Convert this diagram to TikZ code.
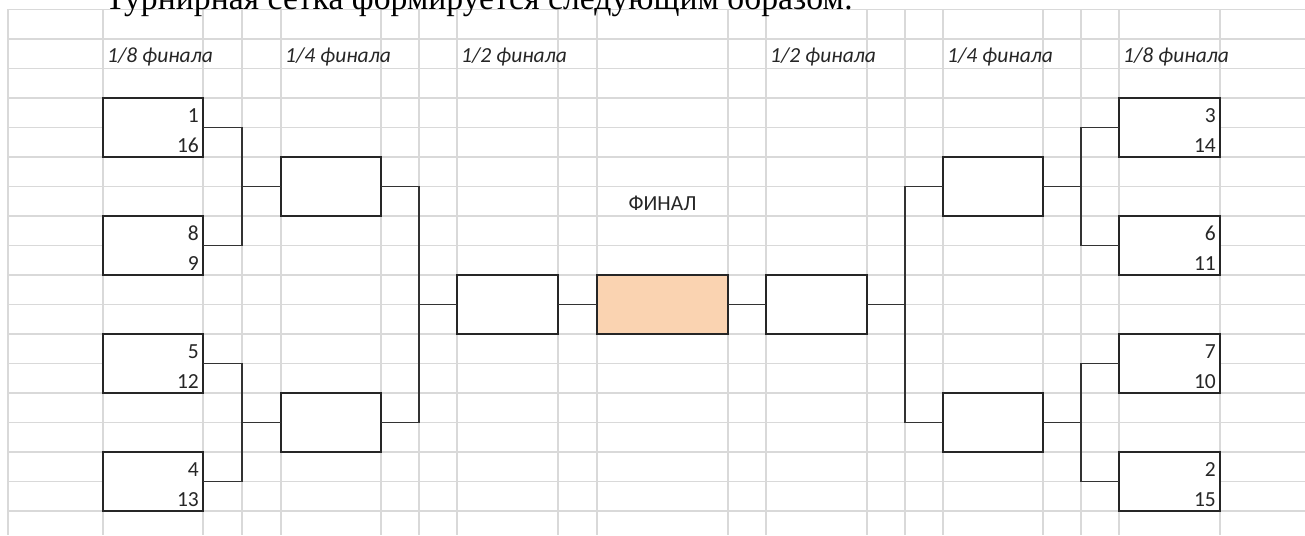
\documentclass[tikz,border=0pt]{standalone}
\usepackage{fontspec}
\setmainfont{Carlito}
\newfontfamily\headlinefont{Liberation Serif}
\usepackage{xcolor}
\usepackage{tikz}
\usetikzlibrary{calc}
\definecolor{cellline}{RGB}{217,217,217}
\definecolor{finalfill}{RGB}{250,211,177}

\begin{document}
\begin{tikzpicture}[
  x=1pt, y=-1pt,
  cell/.style={draw=cellline, line width=1.3pt},
  match/.style={rectangle, draw=black!85, line width=1.4pt, fill=white,
    minimum width=100pt, minimum height=59pt, inner sep=0pt, outer sep=0pt,
    anchor=north west},
  final/.style={match, fill=finalfill, minimum width=131pt},
  seed/.style={font=\fontsize{21.5}{24}\selectfont, text=black!85,
    inner sep=0pt, anchor=base east},
  stage/.style={font=\fontsize{21.5}{24}\selectfont\itshape, text=black!85,
    inner sep=0pt, anchor=base west},
  link/.style={draw=black!80, line width=1.4pt}
]
\useasboundingbox (0,0) rectangle (1305,535);

% spreadsheet grid
\foreach \gx in {8,103,203,242,281,381,419,457,558,597,728,766,867,905,943,1043,1081,1119,1220}
  \draw[cell] (\gx,9.5) -- (\gx,535);
\foreach \k in {0,...,17}
  \draw[cell] (8,{9.5+29.5*\k}) -- (1305,{9.5+29.5*\k});

% cut-off line of text above the table
\node[anchor=base west, inner sep=0pt, font=\headlinefont\fontsize{33.7}{40}\selectfont]
  (headline) at (105,10) {Турнирная сетка формируется следующим образом:};

% round titles
\node[stage] (r8l) at (107,62.5) {1/8 финала};
\node[stage] (r4l) at (285,62.5) {1/4 финала};
\node[stage] (r2l) at (461,62.5) {1/2 финала};
\node[stage] (r2r) at (770,62.5) {1/2 финала};
\node[stage] (r4r) at (947,62.5) {1/4 финала};
\node[stage] (r8r) at (1123,62.5) {1/8 финала};

% left half
\node[match] (a1) at (103,98) {};
\node[match] (a2) at (103,216) {};
\node[match] (a3) at (103,334) {};
\node[match] (a4) at (103,452) {};
\node[match] (q1) at (281,157) {};
\node[match] (q2) at (281,393) {};
\node[match, minimum width=101pt] (s1) at (457,275) {};

% final
\node[final] (fin) at (597,275) {};
\node[font=\fontsize{21.5}{24}\selectfont, text=black!85, inner sep=0pt, anchor=base]
  (finlabel) at ([yshift=64.5pt]fin.north) {ФИНАЛ};

% right half
\node[match, minimum width=101pt] (s2) at (766,275) {};
\node[match] (q3) at (943,157) {};
\node[match] (q4) at (943,393) {};
\node[match, minimum width=101pt] (c1) at (1119,98) {};
\node[match, minimum width=101pt] (c2) at (1119,216) {};
\node[match, minimum width=101pt] (c3) at (1119,334) {};
\node[match, minimum width=101pt] (c4) at (1119,452) {};

% seeds
\node[seed] (a1t) at ([shift={(-4,24.5)}]a1.north east) {1};
\node[seed] (a1b) at ([shift={(-4,54)}]a1.north east) {16};
\node[seed] (a2t) at ([shift={(-4,24.5)}]a2.north east) {8};
\node[seed] (a2b) at ([shift={(-4,54)}]a2.north east) {9};
\node[seed] (a3t) at ([shift={(-4,24.5)}]a3.north east) {5};
\node[seed] (a3b) at ([shift={(-4,54)}]a3.north east) {12};
\node[seed] (a4t) at ([shift={(-4,24.5)}]a4.north east) {4};
\node[seed] (a4b) at ([shift={(-4,54)}]a4.north east) {13};
\node[seed] (c1t) at ([shift={(-4,24.5)}]c1.north east) {3};
\node[seed] (c1b) at ([shift={(-4,54)}]c1.north east) {14};
\node[seed] (c2t) at ([shift={(-4,24.5)}]c2.north east) {6};
\node[seed] (c2b) at ([shift={(-4,54)}]c2.north east) {11};
\node[seed] (c3t) at ([shift={(-4,24.5)}]c3.north east) {7};
\node[seed] (c3b) at ([shift={(-4,54)}]c3.north east) {10};
\node[seed] (c4t) at ([shift={(-4,24.5)}]c4.north east) {2};
\node[seed] (c4b) at ([shift={(-4,54)}]c4.north east) {15};

% bracket lines
\draw[link] (a1.east) -- ++(39,0) |- (q1.west);
\draw[link] (a2.east) -- ++(39,0) |- (q1.west);
\draw[link] (a3.east) -- ++(39,0) |- (q2.west);
\draw[link] (a4.east) -- ++(39,0) |- (q2.west);
\draw[link] (q1.east) -- ++(38,0) |- (s1.west);
\draw[link] (q2.east) -- ++(38,0) |- (s1.west);
\draw[link] (s1.east) -- (fin.west);
\draw[link] (fin.east) -- (s2.west);
\draw[link] (s2.east) -- ++(38,0) |- (q3.west);
\draw[link] (s2.east) -- ++(38,0) |- (q4.west);
\draw[link] (q3.east) -- ++(38,0) |- (c1.west);
\draw[link] (q3.east) -- ++(38,0) |- (c2.west);
\draw[link] (q4.east) -- ++(38,0) |- (c3.west);
\draw[link] (q4.east) -- ++(38,0) |- (c4.west);
\end{tikzpicture}
\end{document}
